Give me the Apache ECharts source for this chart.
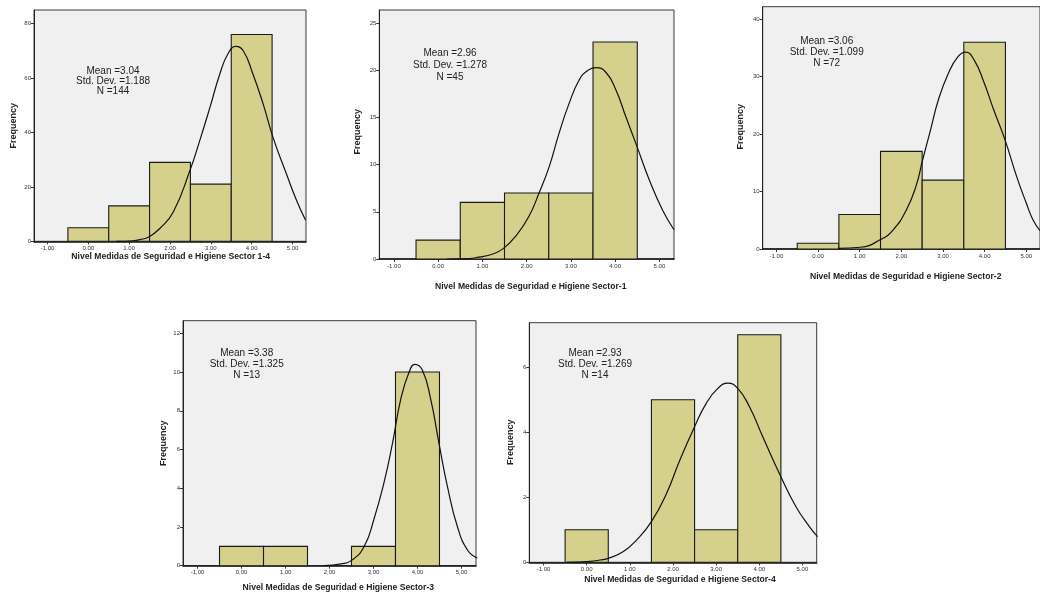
<!DOCTYPE html>
<html>
<head>
<meta charset="utf-8">
<script src="https://cdn.jsdelivr.net/npm/echarts@6/dist/echarts.min.js"></script>
<style>
html,body{margin:0;padding:0;background:#ffffff;}
#chart{width:1040px;height:598px;}
</style>
</head>
<body>
<div id="chart"></div>
<script>
// ---------------- data ----------------
const binCenters = [0, 1, 2, 3, 4];
const freqSector14 = [5, 13, 29, 21, 76];
const freqSector1 = [2, 6, 7, 7, 23];
const freqSector2 = [1, 6, 17, 12, 36];
const freqSector3 = [1, 1, 0, 1, 10];
const freqSector4 = [1, 0, 5, 1, 7];

// normal curves, points as [x, frequency]
const curveSector14 = [[0.69,0],[1.10,0.2],[1.26,0.6],[1.48,1.6],[1.75,4.7],[2.08,10.8],[2.49,26.1],[2.73,37.1],[2.98,49.3],[3.22,61.5],[3.42,68.9],[3.61,71.6],[3.79,70.1],[4.03,61.5],[4.28,50.5],[4.52,38.3],[4.85,24.8],[5.10,15.0],[5.32,7.7]];
const curveSector1 = [[0.20,0],[0.70,0.05],[0.92,0.2],[1.22,0.5],[1.47,1.1],[1.75,2.4],[2.05,4.5],[2.28,7.0],[2.51,9.8],[2.73,13.3],[2.96,16.5],[3.19,19.0],[3.38,20.0],[3.56,20.3],[3.79,19.8],[4.02,17.9],[4.24,15.1],[4.48,12.1],[4.77,8.4],[5.07,5.2],[5.33,3.1]];
const curveSector2 = [[0.48,0.1],[1.02,0.3],[1.49,1.6],[1.80,3.3],[2.12,6.8],[2.35,10.9],[2.51,15.5],[2.70,20.7],[2.89,26.0],[3.13,30.6],[3.36,33.5],[3.54,34.3],[3.75,32.9],[3.99,28.9],[4.22,24.2],[4.49,19.0],[4.77,12.6],[5.00,8.0],[5.16,5.1],[5.33,3.2]];
const curveSector3 = [[1.88,0],[2.26,0.09],[2.52,0.3],[2.79,1.0],[3.01,2.4],[3.24,4.3],[3.43,6.3],[3.62,8.6],[3.81,10.0],[3.94,10.4],[4.11,10.1],[4.30,8.6],[4.49,6.3],[4.68,4.1],[4.91,2.0],[5.14,0.8],[5.36,0.4]];
const curveSector4 = [[-0.46,0],[0.08,0.03],[0.31,0.07],[0.50,0.12],[0.85,0.33],[1.16,0.69],[1.50,1.25],[1.85,2.12],[2.16,3.15],[2.50,4.17],[2.77,4.89],[3.04,5.35],[3.27,5.51],[3.50,5.35],[3.77,4.79],[4.08,3.86],[4.50,2.63],[4.85,1.71],[5.16,1.1],[5.35,0.79]];

// tick labels
const xTicks = [-1, 0, 1, 2, 3, 4, 5];
const yTicks14 = [0, 20, 40, 60, 80];
const yTicks1 = [0, 5, 10, 15, 20, 25];
const yTicks2 = [0, 10, 20, 30, 40];
const yTicks3 = [0, 2, 4, 6, 8, 10, 12];
const yTicks4 = [0, 2, 4, 6];

// texts
const axisTitles = [
  'Nivel Medidas de Seguridad e Higiene Sector 1-4',
  'Nivel Medidas de Seguridad e Higiene Sector-1',
  'Nivel Medidas de Seguridad e Higiene Sector-2',
  'Nivel Medidas de Seguridad e Higiene Sector-3',
  'Nivel Medidas de Seguridad e Higiene Sector-4'
];
const statMeans = ['3.04', '2.96', '3.06', '3.38', '2.93'];
const statSDs = ['1.188', '1.278', '1.099', '1.325', '1.269'];
const statNs = ['144', '45', '72', '13', '14'];
const yTitle = 'Frequency';

// ---------------- layout ----------------
const FONT = 'Liberation Sans';
const panels = [
  {grid:{left:34, top:10, width:272, height:231.3}, ymax:85, yTicks:yTicks14, freq:freqSector14, curve:curveSector14, dec:'.',
   stat:[113, 71, 10.3], title:[170.7, 256.7], ytitle:[13.3, 125.7]},
  {grid:{left:379.3, top:10, width:294.7, height:249}, ymax:26.4, yTicks:yTicks1, freq:freqSector1, curve:curveSector1, dec:'.',
   stat:[450, 53.3, 12], title:[530.7, 286.7], ytitle:[357.3, 131.7]},
  {grid:{left:762.7, top:6.7, width:284.7, height:242.3}, ymax:42.2, yTicks:yTicks2, freq:freqSector2, curve:curveSector2, dec:'.',
   stat:[826.7, 41.7, 10.8], title:[905.7, 276.7], ytitle:[740.7, 126.7]},
  {grid:{left:183, top:320.7, width:293, height:245}, ymax:12.65, yTicks:yTicks3, freq:freqSector3, curve:curveSector3, dec:',',
   stat:[246.7, 353.3, 11.2], title:[338.3, 587.3], ytitle:[163.3, 443.3]},
  {grid:{left:529.3, top:322.7, width:287.4, height:239.6}, ymax:7.37, yTicks:yTicks4, freq:freqSector4, curve:curveSector4, dec:'.',
   stat:[595, 353.3, 11.2], title:[680, 580], ytitle:[510.7, 442.3]}
];

const grids = [], xAxes = [], yAxes = [], series = [], graphics = [];

panels.forEach(function (p, i) {
  grids.push(Object.assign({show:true, backgroundColor:'#f0f0f0', borderColor:'#3a3a3a', borderWidth:1}, p.grid));
  xAxes.push({
    type:'value', gridIndex:i, min:-1.33, max:5.33,
    splitLine:{show:false},
    axisLine:{show:true, onZero:false, lineStyle:{color:'#111', width:1.6}},
    axisTick:{show:true, customValues:xTicks, length:3, lineStyle:{color:'#333'}},
    axisLabel:{customValues:xTicks, fontSize:6, color:'#333', fontFamily:FONT, margin:4,
      formatter:function (v) { return v.toFixed(2).replace('.', p.dec); }}
  });
  yAxes.push({
    type:'value', gridIndex:i, min:0, max:p.ymax,
    splitLine:{show:false},
    axisLine:{show:true, onZero:false, lineStyle:{color:'#222', width:1}},
    axisTick:{show:true, customValues:p.yTicks, length:3, lineStyle:{color:'#333'}},
    axisLabel:{customValues:p.yTicks, fontSize:6, color:'#333', fontFamily:FONT, margin:3}
  });
  series.push({
    type:'custom', xAxisIndex:i, yAxisIndex:i, z:2,
    data: binCenters.map(function (c, k) { return [c, p.freq[k]]; }),
    renderItem: function (params, api) {
      var x = api.value(0), y = api.value(1);
      if (!y) return null;
      var a = api.coord([x - 0.5, y]);
      var b = api.coord([x + 0.5, 0]);
      return {type:'rect', shape:{x:a[0], y:a[1], width:b[0]-a[0], height:b[1]-a[1]},
        style:{fill:'#d5d18d', stroke:'#1a1a1a', lineWidth:1.1}};
    }
  });
  series.push({
    type:'line', xAxisIndex:i, yAxisIndex:i, z:5, smooth:0.5, symbol:'none',
    data:p.curve, lineStyle:{color:'#111', width:1.2}, clip:true
  });
  var lines = ['Mean =' + statMeans[i], 'Std. Dev. =' + statSDs[i], 'N =' + statNs[i]];
  lines.forEach(function (t, k) {
    graphics.push({type:'text', x:p.stat[0], y:p.stat[1] + k * p.stat[2], z:10,
      style:{text:t, fill:'#222', font:'10px "' + FONT + '"', align:'center', verticalAlign:'middle'}});
  });
  graphics.push({type:'text', x:p.title[0], y:p.title[1], z:10,
    style:{text:axisTitles[i], fill:'#222', font:'bold 8.6px "' + FONT + '"', align:'center', verticalAlign:'middle'}});
  graphics.push({type:'text', x:p.ytitle[0], y:p.ytitle[1], rotation:Math.PI/2, z:10,
    style:{text:yTitle, fill:'#222', font:'bold 9px "' + FONT + '"', align:'center', verticalAlign:'middle'}});
});

const chart = echarts.init(document.getElementById('chart'), null, {renderer:'canvas'});
chart.setOption({
  animation:false,
  backgroundColor:'#ffffff',
  grid:grids, xAxis:xAxes, yAxis:yAxes, series:series, graphic:graphics
});
</script>
</body>
</html>
